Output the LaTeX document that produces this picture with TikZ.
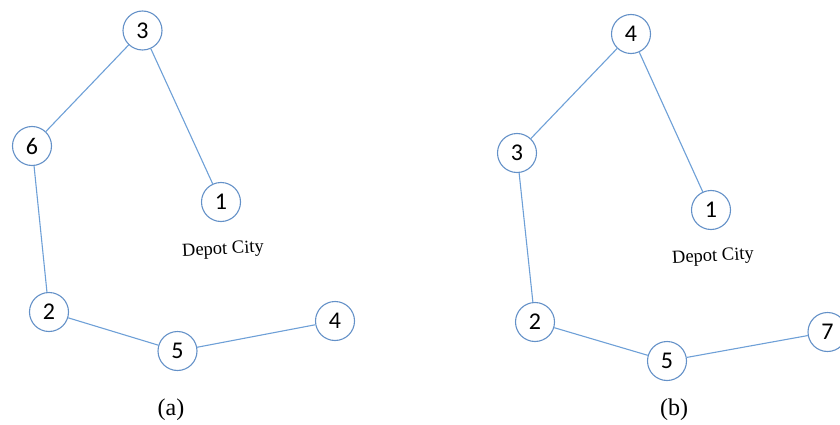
\documentclass[tikz,border=0pt]{standalone}
\usepackage{fontspec}
\setmainfont{Liberation Serif}
\newfontfamily\numfont{Carlito}
\definecolor{edgeblue}{RGB}{110,160,215}
\definecolor{ringblue}{RGB}{100,145,200}
\begin{document}
\begin{tikzpicture}[x=1pt,y=-1pt,
  city/.style={circle,draw=ringblue,line width=1.1pt,fill=white,minimum size=39pt,inner sep=0pt,font=\numfont\fontsize{24}{24}\selectfont},
  route/.style={draw=edgeblue,line width=1.1pt},
  depot/.style={font=\fontsize{18.5}{18.5}\selectfont,rotate=3},
  caption/.style={font=\fontsize{24}{24}\selectfont}]
\useasboundingbox (0,0) rectangle (840,425);
% tour (a)
\node[city] (a3) at (142.5,30.5) {3};
\node[city] (a6) at (32,146) {6};
\node[city] (a1) at (221,202) {1};
\node[city] (a2) at (49,312) {2};
\node[city] (a5) at (177.5,351) {5};
\node[city] (a4) at (335,321) {4};
\node[depot] (ad) at (223,250) {Depot City};
\node[caption] (acap) at (171,410) {(a)};
\draw[route] (a1) -- (a3) -- (a6) -- (a2) -- (a5) -- (a4);
% tour (b)
\node[city] (b4) at (631,34) {4};
\node[city] (b3) at (517,153) {3};
\node[city] (b1) at (711,210) {1};
\node[city] (b2) at (535,322) {2};
\node[city] (b5) at (667,361) {5};
\node[city] (b7) at (827.5,332) {7};
\node[depot] (bd) at (713,257) {Depot City};
\node[caption] (bcap) at (674,410) {(b)};
\draw[route] (b1) -- (b4) -- (b3) -- (b2) -- (b5) -- (b7);
\end{tikzpicture}
\end{document}
